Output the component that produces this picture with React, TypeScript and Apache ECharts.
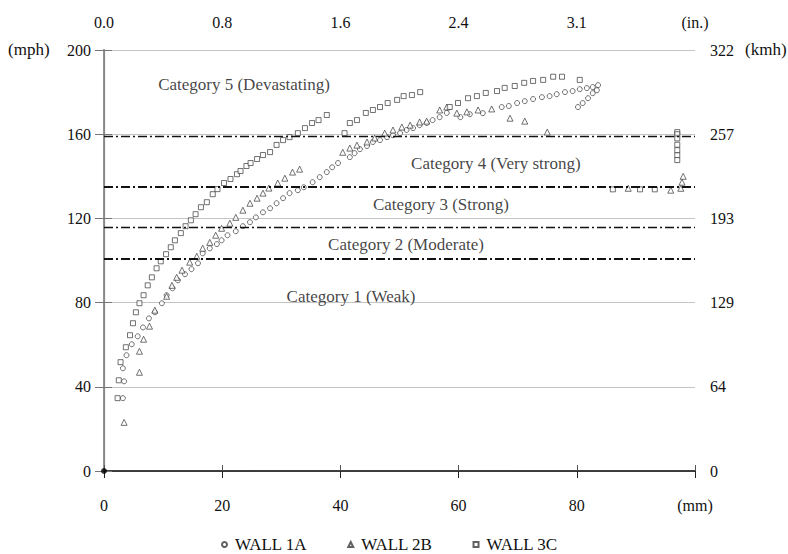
import React, { useEffect, useRef } from "react";
import * as echarts from "echarts";

// ---- data (x in mm, y in mph) ----
const wall1A: number[][] = [
  [3.2, 34.6], [3.4, 42.6], [3.2, 48.8], [3.8, 55.0], [4.7, 60.2], [5.7, 64.0], [6.6, 68.2],
  [7.6, 72.5], [8.6, 75.4], [9.8, 79.7], [10.6, 83.5], [11.6, 86.8], [12.5, 90.6], [13.7, 93.5],
  [14.8, 95.9], [15.9, 98.7], [16.7, 103.4], [17.9, 105.8], [19.1, 107.8], [19.9, 109.6],
  [20.9, 112.0], [22.3, 113.9], [23.5, 116.3], [24.7, 118.2], [25.7, 120.5], [26.9, 122.9],
  [28.1, 124.8], [29.2, 127.2], [30.3, 129.6], [31.4, 132.0], [32.8, 133.4], [33.8, 134.8],
  [35.3, 137.2], [36.5, 139.6], [37.7, 142.0], [38.6, 144.3], [39.6, 146.3], [41.6, 149.1],
  [42.4, 151.0], [43.3, 152.9], [44.5, 154.4], [45.5, 156.3], [46.7, 157.2], [47.9, 158.6],
  [48.9, 159.5], [50.1, 160.5], [51.2, 162.0], [52.3, 162.9], [53.4, 164.3], [54.6, 165.3],
  [55.6, 166.7], [56.8, 168.1], [58.0, 170.1], [60.3, 168.1], [61.9, 169.5], [64.1, 170.0],
  [67.3, 172.9], [68.5, 173.4], [69.9, 174.8], [71.2, 175.7], [72.6, 176.7], [74.1, 177.6],
  [75.4, 178.1], [76.6, 179.0], [78.0, 180.0], [79.3, 180.5], [80.5, 181.4], [81.7, 181.9],
  [82.7, 182.4], [83.6, 183.3], [80.2, 172.9], [81.0, 174.8], [81.9, 177.1], [82.7, 179.5],
  [83.4, 180.9],
];

const wall2B: number[][] = [
  [3.4, 23.1], [6.0, 46.9], [6.0, 56.9], [6.7, 62.6], [7.7, 68.8], [8.6, 76.4], [10.6, 83.0],
  [11.5, 88.2], [12.3, 92.0], [13.2, 95.4], [14.5, 99.2], [15.7, 102.0], [16.7, 105.8],
  [17.9, 108.6], [18.9, 112.0], [19.9, 115.3], [21.3, 117.7], [22.3, 120.5], [23.5, 123.9],
  [24.7, 127.2], [25.9, 129.6], [26.9, 132.0], [27.9, 134.4], [29.4, 136.8], [30.6, 139.1],
  [31.9, 142.0], [33.1, 143.4], [40.4, 151.4], [41.6, 153.4], [42.8, 154.8], [44.5, 156.3],
  [45.8, 158.2], [47.5, 160.5], [48.9, 162.0], [50.4, 163.4], [51.8, 164.3], [53.4, 165.8],
  [54.6, 166.2], [56.8, 171.5], [58.0, 172.9], [59.7, 170.0], [61.4, 170.6], [63.3, 171.5],
  [65.6, 172.0], [68.7, 167.6], [71.2, 166.2], [75.0, 161.0], [88.7, 134.3], [95.9, 133.4],
  [97.6, 134.3], [97.8, 137.2], [98.0, 140.0],
];

const wall3C: number[][] = [
  [2.3, 34.6], [2.5, 43.1], [2.8, 51.7], [3.7, 58.8], [4.4, 64.5], [4.9, 70.2], [5.4, 75.4],
  [6.0, 79.7], [6.7, 83.5], [7.4, 88.2], [8.1, 92.0], [8.9, 96.3], [9.6, 99.6], [10.5, 103.0],
  [11.3, 106.3], [12.0, 109.6], [13.0, 113.0], [13.8, 116.3], [14.7, 119.1], [15.5, 122.0],
  [16.4, 125.3], [17.4, 127.7], [18.4, 131.5], [19.2, 133.9], [20.3, 136.8], [21.4, 138.7],
  [22.5, 141.0], [23.1, 142.5], [24.1, 144.9], [24.8, 146.3], [25.9, 148.2], [26.9, 150.1],
  [28.1, 151.5], [29.2, 154.9], [30.3, 157.2], [31.4, 158.6], [32.8, 160.5], [34.0, 162.9],
  [35.2, 165.3], [36.3, 166.7], [37.7, 169.1],
  [40.7, 160.5], [41.6, 165.3], [42.8, 166.7], [44.3, 170.1], [45.5, 171.5], [46.7, 172.9],
  [48.0, 174.8], [49.6, 176.3], [50.7, 178.1], [52.1, 178.6], [53.5, 180.0],
  [58.5, 172.9], [59.9, 174.8], [61.6, 177.1], [63.1, 178.1], [64.6, 179.6], [66.5, 180.5],
  [67.8, 182.0], [69.5, 182.9], [71.1, 184.4], [72.6, 185.3], [74.3, 185.8], [76.0, 187.3],
  [77.5, 187.3], [80.5, 185.8],
  [97.0, 161.0], [97.0, 160.0], [97.0, 158.0], [97.0, 155.0], [97.0, 152.4], [97.0, 150.0],
  [97.0, 147.7], [86.1, 133.8], [90.7, 133.8], [93.2, 133.8],
];

const origin: number[][] = [[0, 0]];

// Category threshold lines (mph) and widths
const categoryLines: number[] = [159, 135, 116, 101];
const categoryLineWidths: number[] = [1.3, 2, 1.3, 2];

// Category labels [x mm, y mph, text]
const categoryLabels: (number | string)[][] = [
  [23.7, 183.4, "Category 5 (Devastating)"],
  [66.3, 146.3, "Category 4 (Very strong)"],
  [57.0, 126.8, "Category 3 (Strong)"],
  [51.1, 107.8, "Category 2 (Moderate)"],
  [41.8, 83.1, "Category 1 (Weak)"],
];

// Tick labels
const mmTicks: string[] = ["0", "20", "40", "60", "80", "(mm)"];
const inTicks: string[] = ["0.0", "0.8", "1.6", "2.4", "3.1", "(in.)"];
const mphTicks: string[] = ["0", "40", "80", "120", "160", "200"];
const kmhTicks: string[] = ["0", "64", "129", "193", "257", "322"];

const FONT = "'Liberation Serif', 'Times New Roman', serif";

export default function App() {
  const ref = useRef<HTMLDivElement>(null);

  useEffect(() => {
    if (!ref.current) return;
    const chart = echarts.init(ref.current, undefined, { renderer: "svg" });

    const markerStyle = { color: "#fff", borderColor: "#3a3a3a", borderWidth: 0.9 };
    const textBase = { fontFamily: FONT, fontSize: 16, color: "#111" };

    chart.setOption({
      animation: false,
      backgroundColor: "#fff",
      textStyle: { fontFamily: FONT },
      grid: { left: 104, top: 50, width: 591, height: 421 },
      legend: {
        top: 531,
        left: 216,
        itemWidth: 5,
        itemHeight: 5,
        itemGap: 40,
        data: ["WALL 1A", "WALL 2B", "WALL 3C"],
        textStyle: { ...textBase, fontSize: 17, lineHeight: 17, padding: [0, 0, 0, 3] },
      },
      xAxis: [
        {
          type: "value",
          position: "bottom",
          min: 0,
          max: 100,
          interval: 20,
          axisLine: { show: true, lineStyle: { color: "#777", width: 1.5 } },
          axisTick: { show: true, inside: true, length: 6, lineStyle: { color: "#555" } },
          axisLabel: {
            ...textBase,
            margin: 26,
            formatter: (v: number) => mmTicks[Math.round(v / 20)] ?? "",
          },
          splitLine: { show: false },
        },
        {
          type: "value",
          position: "top",
          min: 0,
          max: 100,
          interval: 20,
          axisLine: { show: true, lineStyle: { color: "#222", width: 1.5 } },
          axisTick: { show: true, inside: true, length: 7, lineStyle: { color: "#222" } },
          axisLabel: {
            ...textBase,
            margin: 20,
            formatter: (v: number) => inTicks[Math.round(v / 20)] ?? "",
          },
          splitLine: { show: false },
        },
      ],
      yAxis: [
        {
          type: "value",
          position: "left",
          min: 0,
          max: 200,
          interval: 40,
          axisLine: { show: true, lineStyle: { color: "#888", width: 1.8 } },
          axisTick: { show: true, inside: false, length: 9, lineStyle: { color: "#777" } },
          axisLabel: {
            ...textBase,
            margin: 13,
            formatter: (v: number) => mphTicks[Math.round(v / 40)] ?? "",
          },
          splitLine: { show: true, lineStyle: { color: "#c4c4c4", width: 1 } },
        },
        {
          type: "value",
          position: "right",
          min: 0,
          max: 200,
          interval: 40,
          axisLine: { show: true, lineStyle: { color: "#888", width: 1.2 } },
          axisTick: { show: true, inside: false, length: 8, lineStyle: { color: "#777" } },
          axisLabel: {
            ...textBase,
            margin: 15,
            formatter: (v: number) => kmhTicks[Math.round(v / 40)] ?? "",
          },
          splitLine: { show: false },
        },
      ],
      graphic: [
        { type: "text", left: 8, top: 41, style: { text: "(mph)", font: `17px ${FONT}`, fill: "#111" } },
        { type: "text", left: 745, top: 41, style: { text: "(kmh)", font: `17px ${FONT}`, fill: "#111" } },
      ],
      series: [
        {
          name: "WALL 1A",
          type: "scatter",
          symbol: "circle",
          symbolSize: 5,
          itemStyle: markerStyle,
          data: wall1A,
          z: 3,
        },
        {
          name: "WALL 2B",
          type: "scatter",
          symbol: "triangle",
          symbolSize: 6,
          itemStyle: markerStyle,
          data: wall2B,
          z: 3,
        },
        {
          name: "WALL 3C",
          type: "scatter",
          symbol: "rect",
          symbolSize: 5,
          itemStyle: markerStyle,
          data: wall3C,
          z: 3,
        },
        {
          name: "origin",
          type: "scatter",
          symbol: "circle",
          symbolSize: 6,
          itemStyle: { color: "#000" },
          data: origin,
          z: 5,
          clip: false,
        },
        {
          name: "categories",
          type: "scatter",
          symbolSize: 1,
          itemStyle: { color: "transparent" },
          silent: true,
          data: categoryLabels,
          label: {
            show: true,
            position: "inside",
            formatter: (p: any) => p.data[2],
            ...textBase,
            fontSize: 17,
          },
          markLine: {
            silent: true,
            symbol: ["none", "none"],
            label: { show: false },
            data: categoryLines.map((y, i) => ({
              yAxis: y,
              lineStyle: { color: "#111", width: categoryLineWidths[i], type: [9, 3, 2, 3] },
            })),
          },
          z: 2,
        },
      ],
    });

    return () => chart.dispose();
  }, []);

  return (
    <div
      ref={ref}
      style={{ position: "fixed", left: 0, top: 0, width: 788, height: 554, background: "#fff" }}
    />
  );
}
